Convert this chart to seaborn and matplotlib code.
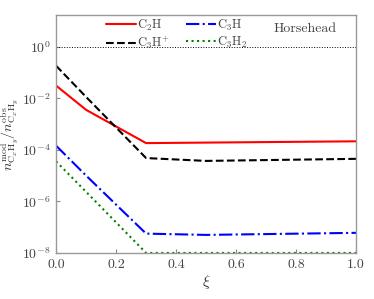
import numpy as np
import pandas as pd
import matplotlib
matplotlib.use("Agg")
import matplotlib.pyplot as plt
import seaborn as sns

# data
xi = [0.0, 0.1, 0.3, 0.5, 1.0]
c2h = [10**-1.51, 10**-2.45, 10**-3.74, 10**-3.72, 10**-3.67]
c3hp = [10**-0.74, 10**-1.95, 10**-4.32, 10**-4.43, 10**-4.35]
c3h = [10**-3.84, 10**-5.0, 10**-7.25, 10**-7.30, 10**-7.22]
c3h2 = [10**-4.45, 10**-5.63, 10**-8.0, 10**-8.0, 10**-8.0]

labels = [r'$\mathrm{C_2H}$', r'$\mathrm{C_3H^{+}}$', r'$\mathrm{C_3H}$', r'$\mathrm{C_3H_2}$']
colors = ['red', 'black', 'blue', 'green']
styles = ['-', '--', '-.', ':']

sns.set_style('ticks')
plt.rcParams['font.family'] = 'serif'
plt.rcParams['font.serif'] = ['cmr10', 'DejaVu Serif']
plt.rcParams['mathtext.fontset'] = 'cm'
plt.rcParams['axes.formatter.use_mathtext'] = True

fig = plt.figure(figsize=(3.74, 2.99), dpi=100)
ax = fig.add_axes([0.150, 0.154, 0.802, 0.796])

for vals, lab, col, ls in zip([c2h, c3hp, c3h, c3h2], labels, colors, styles):
    sns.lineplot(x=xi, y=vals, ax=ax, color=col, linestyle=ls, linewidth=1.5, label=lab)

ax.axhline(1.0, color='black', linestyle=':', linewidth=0.7)
ax.set_yscale('log')
ax.set_xlim(0, 1)
ax.set_ylim(1e-8, 17)
ax.set_yticks([1e-8, 1e-6, 1e-4, 1e-2, 1e0])
ax.minorticks_off()
ax.set_xticks([0.0, 0.2, 0.4, 0.6, 0.8, 1.0])
ax.set_xticklabels(['0.0', '0.2', '0.4', '0.6', '0.8', '1.0'])

ax.set_xlabel(r'$\xi$', fontsize=11, color='#333333', labelpad=1)
ax.set_ylabel(r'$n_{\mathrm{C}_x\mathrm{H}_y}^{\mathrm{mod}}/n_{\mathrm{C}_x\mathrm{H}_y}^{\mathrm{obs}}$',
              fontsize=10, color='#333333', labelpad=1)
ax.tick_params(direction='in', length=3, width=0.8, color='#888888', labelsize=10,
               labelcolor='#444444')
ax.tick_params(axis='x', pad=4.5)
ax.tick_params(axis='y', pad=4)
for sp in ax.spines.values():
    sp.set_color('#999999')
    sp.set_linewidth(1.0)

leg = ax.legend(ncol=2, loc='upper left', bbox_to_anchor=(0.14, 1.02), frameon=False,
                fontsize=9, handlelength=2.4, handletextpad=0.1, columnspacing=1.3,
                labelspacing=0.15, borderaxespad=0.2)
for t in leg.get_texts():
    t.set_color('#444444')

ax.text(0.935, 0.94, 'Horsehead', transform=ax.transAxes, ha='right', va='center',
        fontsize=10, color='#444444')

fig.savefig('out.png', dpi=100)
